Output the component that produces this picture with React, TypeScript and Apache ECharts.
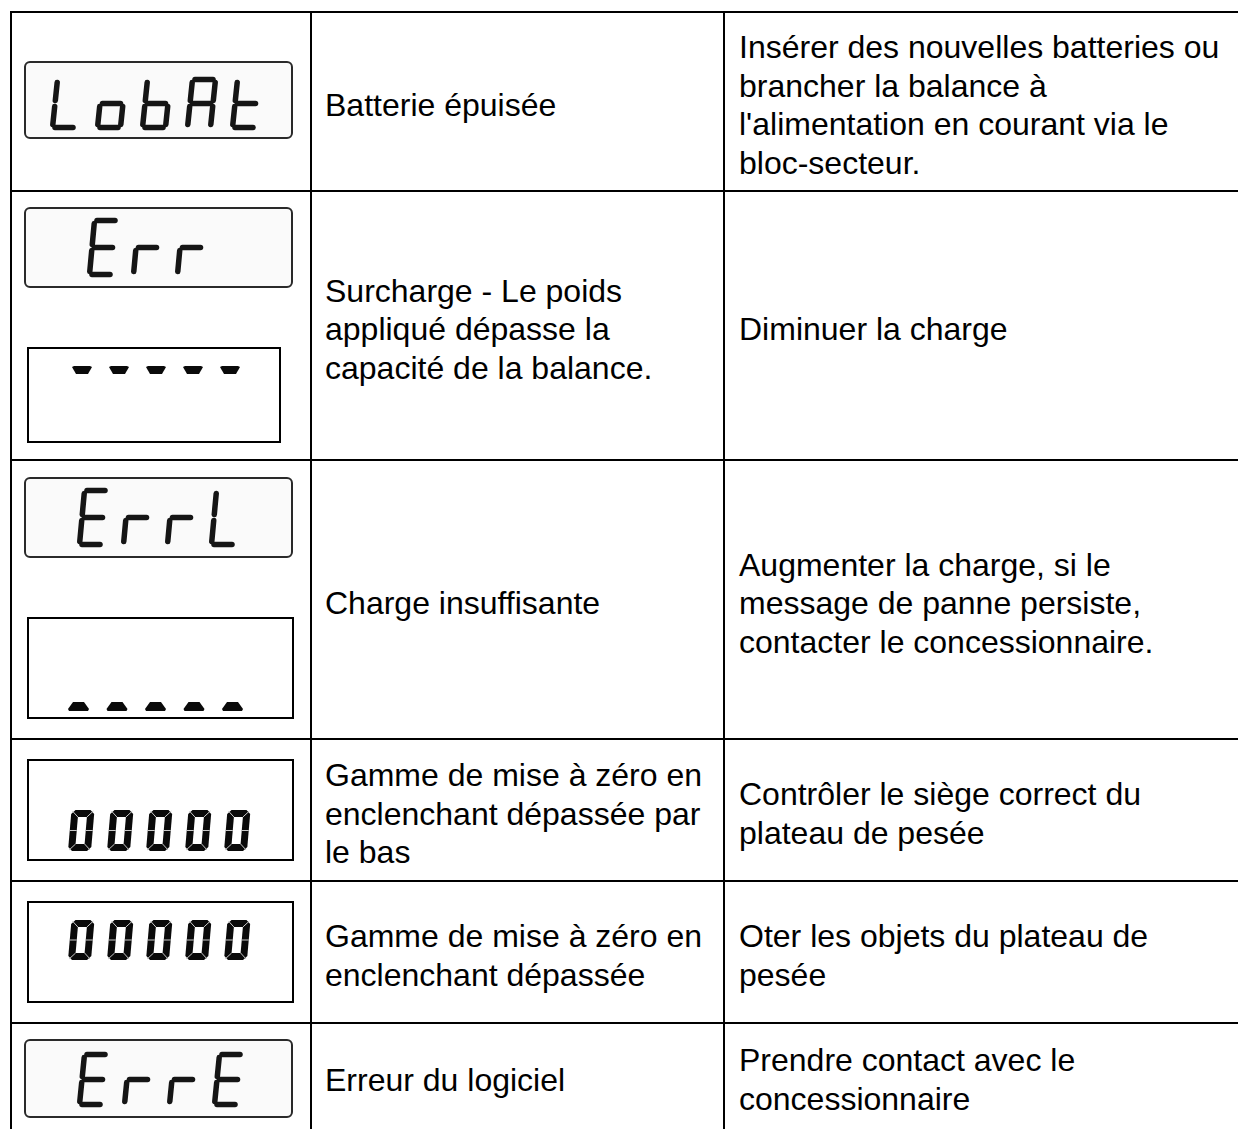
import React, { useEffect, useRef } from "react";
import * as echarts from "echarts";

// ---- table content ----
const statusTexts: string[][] = [
  ["Batterie épuisée"],
  ["Surcharge - Le poids", "appliqué dépasse la", "capacité de la balance."],
  ["Charge insuffisante"],
  ["Gamme de mise à zéro en", "enclenchant dépassée par", "le bas"],
  ["Gamme de mise à zéro en", "enclenchant dépassée"],
  ["Erreur du logiciel"],
];
const remedyTexts: string[][] = [
  ["Insérer des nouvelles batteries ou", "brancher la balance à", "l'alimentation en courant via le", "bloc-secteur."],
  ["Diminuer la charge"],
  ["Augmenter la charge, si le", "message de panne persiste,", "contacter le concessionnaire."],
  ["Contrôler le siège correct du", "plateau de pesée"],
  ["Oter les objets du plateau de", "pesée"],
  ["Prendre contact avec le", "concessionnaire"],
];
const lcdCodes = ["LobAt", "Err", "ErrL", "ErrE"];
const dashCodes = ["-----", "_____"];
const zeroCodes = ["00000", "00000"];

// ---- layout ----
const ROW_EDGES = [12, 191, 460, 739, 881, 1023, 1129];
const COL_EDGES = [11, 311, 724];
const COL_TEXT_X = [325, 739];
const FONT = "'Liberation Sans', Arial, Helvetica, sans-serif";
const FONT_SIZE = 32;
const LINE_H = 38.5;

const SEGMENTS: Record<string, string> = {
  L: "fed",
  o: "cdeg",
  b: "fedcg",
  A: "abcefg",
  t: "fedg",
  E: "afged",
  r: "eg",
};

// thin LCD displays: box + glyph geometry
const lcdLayouts = [
  { box: [25, 62, 267, 76], left: 50, pitch: 45, top: 77, bottom: 130 },
  { box: [25, 208, 267, 79], left: 87, pitch: 44, top: 218, bottom: 277 },
  { box: [25, 478, 267, 79], left: 77, pitch: 44, top: 488, bottom: 547 },
  { box: [25, 1040, 267, 77], left: 77, pitch: 45, top: 1052, bottom: 1107 },
];
const zeroLayouts = [
  { box: [28, 760, 265, 100], left: 68, pitch: 39, top: 810, bottom: 851 },
  { box: [28, 902, 265, 100], left: 68, pitch: 39, top: 920, bottom: 960 },
];
const dashLayouts = [
  { box: [28, 348, 252, 94], left: 72, pitch: 37, top: 366, down: true },
  { box: [28, 618, 265, 100], left: 68, pitch: 38.5, top: 702, down: false },
];

function thinGlyph(ch: string, x0: number, y0: number, W: number, H: number, S: number) {
  const segs = SEGMENTS[ch] || "";
  const gx = 2.5, gy = 3;
  const tr = (x: number, y: number) => [x0 + x + S * (1 - y / H), y0 + y];
  const def: Record<string, number[]> = {
    a: [gx, 0, W - gx, 0],
    b: [W, gy, W, H / 2 - gy],
    c: [W, H / 2 + gy, W, H - gy],
    d: [gx, H, W - gx, H],
    e: [0, H / 2 + gy, 0, H - gy],
    f: [0, gy, 0, H / 2 - gy],
    g: [gx, H / 2, W - gx, H / 2],
  };
  const out: any[] = [];
  for (const s of segs) {
    const [a, b, c, d] = def[s];
    const p1 = tr(a, b), p2 = tr(c, d);
    out.push({
      type: "line",
      shape: { x1: p1[0], y1: p1[1], x2: p2[0], y2: p2[1] },
      style: { stroke: "#151515", lineWidth: 5.5, lineCap: "round" },
      silent: true,
    });
  }
  return out;
}

function boldZero(x0: number, y0: number, W: number, H: number, S: number) {
  const T = 7, c = 4;
  const tr = (x: number, y: number) => [x0 + x + S * (1 - y / H), y0 + y];
  const outer = [
    [c, 0], [W - c, 0], [W, c], [W, H - c], [W - c, H], [c, H], [0, H - c], [0, c],
  ].map(([x, y]) => tr(x, y));
  const inner = [[T, T], [W - T, T], [W - T, H - T], [T, H - T]].map(([x, y]) => tr(x, y));
  const seps = [
    [1, 1, T, T], [W - 1, 1, W - T, T], [1, H - 1, T, H - T], [W - 1, H - 1, W - T, H - T],
    [0, H / 2, T, H / 2], [W - T, H / 2, W, H / 2],
  ];
  const out: any[] = [
    { type: "polygon", shape: { points: outer }, style: { fill: "#0a0a0a" }, silent: true },
    { type: "polygon", shape: { points: inner }, style: { fill: "#ffffff" }, silent: true },
  ];
  for (const [a, b, cc, d] of seps) {
    const p1 = tr(a, b), p2 = tr(cc, d);
    out.push({
      type: "line",
      shape: { x1: p1[0], y1: p1[1], x2: p2[0], y2: p2[1] },
      style: { stroke: "#c8c8c8", lineWidth: 1 },
      silent: true,
    });
  }
  return out;
}

function dash(x0: number, y0: number, down: boolean) {
  const pts = down
    ? [[0, 1], [2, 0], [18, 0], [20, 1], [16, 8], [4, 8]]
    : [[5, 0], [16, 0], [21, 7], [20, 9], [1, 9], [0, 7]];
  return {
    type: "polygon",
    shape: { points: pts.map(([x, y]) => [x0 + x, y0 + y]) },
    style: { fill: "#0a0a0a" },
    silent: true,
  };
}

function buildElements() {
  const els: any[] = [];
  // grid lines
  for (const y of ROW_EDGES.slice(0, 6)) {
    els.push({
      type: "line",
      shape: { x1: 10, y1: y, x2: 1240, y2: y },
      style: { stroke: "#000", lineWidth: 2 },
      silent: true,
    });
  }
  for (const x of COL_EDGES) {
    els.push({
      type: "line",
      shape: { x1: x, y1: 11, x2: x, y2: 1135 },
      style: { stroke: "#000", lineWidth: 2 },
      silent: true,
    });
  }
  // texts
  const cols = [statusTexts, remedyTexts];
  for (let r = 0; r < 6; r++) {
    const center = (ROW_EDGES[r] + ROW_EDGES[r + 1]) / 2 + 3.5;
    cols.forEach((col, ci) => {
      const lines = col[r];
      lines.forEach((ln, i) => {
        els.push({
          type: "text",
          x: COL_TEXT_X[ci],
          y: center + (i - (lines.length - 1) / 2) * LINE_H,
          style: {
            text: ln,
            fontSize: FONT_SIZE,
            fontFamily: FONT,
            fill: "#000",
            align: "left",
            verticalAlign: "middle",
          },
          silent: true,
        });
      });
    });
  }
  // thin LCD displays
  lcdCodes.forEach((code, k) => {
    const L = lcdLayouts[k];
    els.push({
      type: "rect",
      shape: { x: L.box[0], y: L.box[1], width: L.box[2], height: L.box[3], r: 5 },
      style: { fill: "#fafafa", stroke: "#2a2a2a", lineWidth: 2 },
      silent: true,
    });
    const S = 5;
    const W = 23;
    const H = L.bottom - L.top - 5;
    code.split("").forEach((ch, i) => {
      els.push(...thinGlyph(ch, L.left + 2.5 + i * L.pitch, L.top + 2.5, W, H, S));
    });
  });
  // bold zero displays
  zeroCodes.forEach((code, k) => {
    const L = zeroLayouts[k];
    els.push({
      type: "rect",
      shape: { x: L.box[0], y: L.box[1], width: L.box[2], height: L.box[3] },
      style: { fill: "#fff", stroke: "#000", lineWidth: 2 },
      silent: true,
    });
    code.split("").forEach((_ch, i) => {
      els.push(...boldZero(L.left + i * L.pitch, L.top, 23, L.bottom - L.top, 3.5));
    });
  });
  // dash displays
  dashCodes.forEach((code, k) => {
    const L = dashLayouts[k];
    els.push({
      type: "rect",
      shape: { x: L.box[0], y: L.box[1], width: L.box[2], height: L.box[3] },
      style: { fill: "#fff", stroke: "#000", lineWidth: 2 },
      silent: true,
    });
    code.split("").forEach((_ch, i) => {
      els.push(dash(L.left + i * L.pitch, L.top, L.down));
    });
  });
  return els;
}

export default function App() {
  const ref = useRef<HTMLDivElement>(null);
  useEffect(() => {
    if (!ref.current) return;
    const chart = echarts.init(ref.current, null, { renderer: "svg" });
    chart.setOption({
      animation: false,
      backgroundColor: "#ffffff",
      graphic: { elements: buildElements() },
    });
    return () => chart.dispose();
  }, []);
  return (
    <div
      ref={ref}
      style={{ position: "absolute", left: 0, top: 0, width: 1238, height: 1129, background: "#fff" }}
    />
  );
}
